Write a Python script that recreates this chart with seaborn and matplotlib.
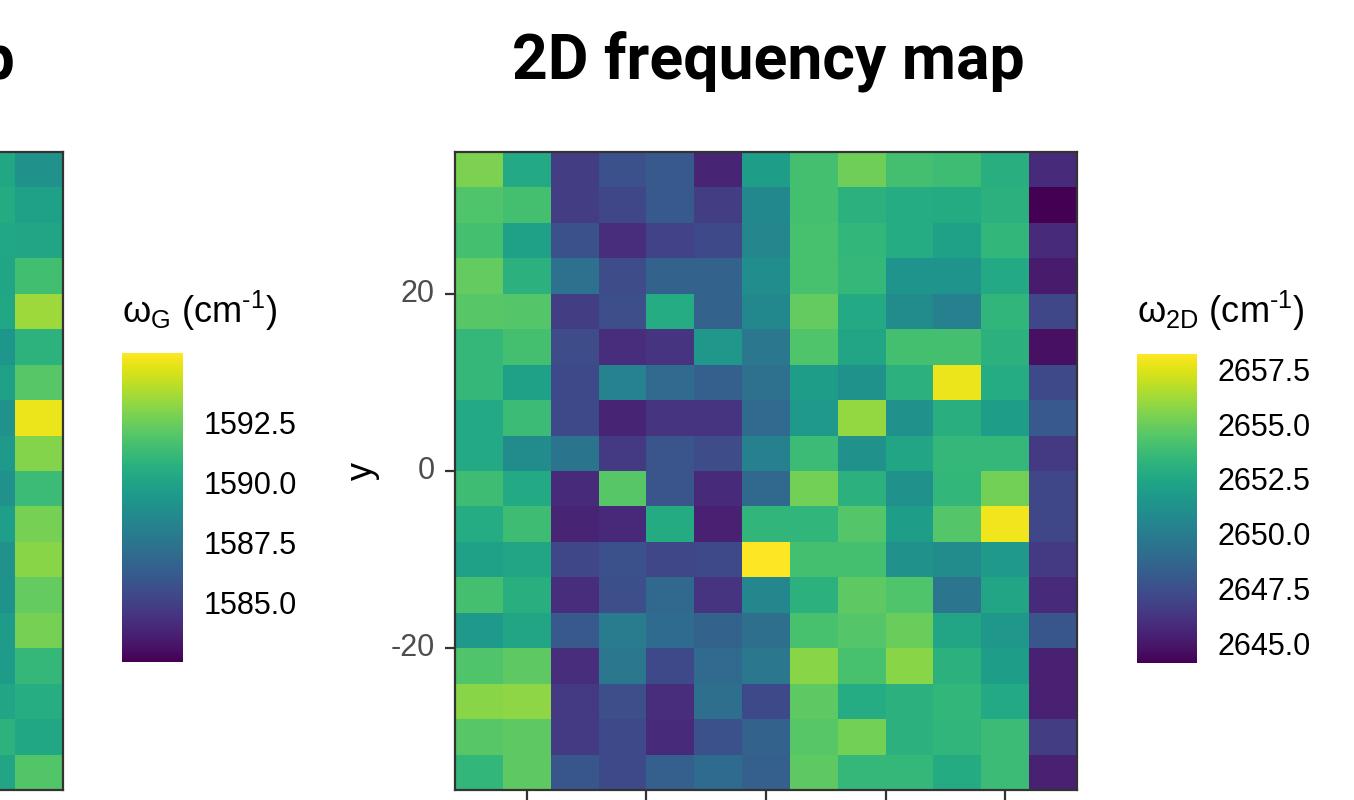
import numpy as np
import pandas as pd
import matplotlib
matplotlib.use("Agg")
import matplotlib.pyplot as plt
import seaborn as sns

# ---- data -----------------------------------------------------------------
# map grid (cell centres), rows listed from top (y = 34) to bottom (y = -34)
x_pos = [-24, -20, -16, -12, -8, -4, 0, 4, 8, 12, 16, 20, 24]
y_pos = [34, 30, 26, 22, 18, 14, 10, 6, 2, -2, -6, -10, -14, -18, -22, -26, -30, -34]
step = 4

# only the two right-most columns of the G map are in view
x_pos_g = [20, 24]

freq_2d = [
    [2655.4, 2652.6, 2646.6, 2647.6, 2648.0, 2645.5, 2651.9, 2654.0, 2655.1, 2654.0, 2653.8, 2653.0, 2645.8],
    [2654.3, 2654.0, 2646.6, 2647.1, 2648.0, 2646.6, 2650.7, 2654.0, 2653.1, 2652.8, 2652.7, 2653.1, 2644.1],
    [2654.0, 2652.1, 2647.6, 2645.9, 2646.9, 2647.2, 2650.6, 2654.1, 2653.4, 2652.8, 2652.1, 2653.4, 2645.8],
    [2654.8, 2653.1, 2649.3, 2647.3, 2648.5, 2648.5, 2651.0, 2654.1, 2653.5, 2651.4, 2651.4, 2652.6, 2645.1],
    [2654.5, 2654.4, 2646.6, 2647.5, 2652.8, 2648.5, 2650.7, 2654.8, 2652.6, 2650.9, 2650.2, 2653.3, 2647.1],
    [2653.5, 2654.0, 2647.3, 2645.9, 2646.2, 2651.6, 2649.7, 2654.3, 2652.4, 2654.0, 2654.0, 2653.1, 2644.7],
    [2653.5, 2652.1, 2647.2, 2650.3, 2648.9, 2648.3, 2649.3, 2651.9, 2651.3, 2653.1, 2657.8, 2652.8, 2647.2],
    [2652.6, 2653.7, 2647.2, 2645.5, 2646.2, 2646.2, 2648.9, 2651.7, 2655.9, 2651.2, 2653.0, 2651.9, 2648.0],
    [2652.6, 2650.9, 2649.5, 2646.5, 2647.8, 2647.3, 2650.2, 2653.7, 2651.2, 2652.4, 2653.5, 2653.5, 2646.5],
    [2653.8, 2652.6, 2645.8, 2654.5, 2647.8, 2645.8, 2648.8, 2655.2, 2653.1, 2651.2, 2653.4, 2655.2, 2647.1],
    [2652.8, 2653.8, 2645.5, 2645.7, 2652.7, 2645.4, 2653.3, 2653.3, 2654.4, 2651.9, 2654.4, 2657.9, 2647.1],
    [2652.1, 2652.4, 2647.1, 2647.6, 2647.1, 2647.2, 2658.2, 2654.0, 2654.0, 2651.2, 2650.9, 2651.7, 2646.5],
    [2654.0, 2653.0, 2645.9, 2647.5, 2648.8, 2646.2, 2650.6, 2653.1, 2654.7, 2654.3, 2649.6, 2652.4, 2645.8],
    [2651.7, 2652.4, 2648.0, 2649.9, 2649.0, 2648.5, 2649.2, 2654.1, 2654.4, 2655.0, 2652.4, 2651.6, 2647.9],
    [2654.3, 2654.7, 2645.9, 2649.7, 2647.2, 2648.9, 2649.7, 2655.7, 2654.1, 2655.7, 2653.1, 2651.9, 2645.4],
    [2655.7, 2655.8, 2646.5, 2647.5, 2645.9, 2649.2, 2647.2, 2654.7, 2652.8, 2653.1, 2653.4, 2652.6, 2645.4],
    [2654.5, 2654.7, 2646.5, 2647.2, 2645.8, 2647.6, 2648.5, 2654.5, 2655.2, 2653.1, 2653.3, 2653.7, 2646.6],
    [2653.4, 2654.7, 2647.9, 2647.2, 2648.3, 2649.0, 2648.3, 2654.7, 2653.5, 2653.5, 2652.7, 2653.7, 2645.4],
]

freq_g = [
    [1590.2, 1589.0], [1590.4, 1589.9], [1590.2, 1590.1], [1590.1, 1591.5],
    [1590.2, 1593.5], [1589.3, 1590.8], [1589.9, 1592.0], [1589.0, 1595.0],
    [1589.5, 1593.0], [1589.0, 1591.3], [1589.7, 1592.7], [1589.0, 1593.1],
    [1589.1, 1592.3], [1589.6, 1592.7], [1589.6, 1591.1], [1590.1, 1590.5],
    [1590.8, 1590.2], [1590.1, 1591.9],
]
g_min, g_max = 1582.5, 1595.4   # colour range of the full G map

tick_x = [-20, -10, 0, 10, 20]
tick_y = [20, 0, -20]
g_cbar_ticks = [1585.0, 1587.5, 1590.0, 1592.5]
d_cbar_ticks = [2645.0, 2647.5, 2650.0, 2652.5, 2655.0, 2657.5]

# ---- style ----------------------------------------------------------------
sns.set_theme(style="white")
plt.rcParams['font.family'] = ['Liberation Sans', 'DejaVu Sans']
plt.rcParams['text.color'] = 'black'
plt.rcParams['mathtext.fontset'] = 'custom'
plt.rcParams['mathtext.rm'] = 'Liberation Sans'
plt.rcParams['mathtext.it'] = 'Liberation Sans:italic'

W, H = 1354, 800
def box(left, top, right, bottom):
    return [left / W, 1 - bottom / H, (right - left) / W, (bottom - top) / H]

frame_col = '#333333'
tick_fs = 22
title_fs = 26
head_fs = 45

fig = plt.figure(figsize=(W / 100, H / 100), dpi=100, facecolor='white')

def style_panel(ax):
    for s in ax.spines.values():
        s.set_visible(True)
        s.set_color(frame_col)
        s.set_linewidth(1.6)
    ax.tick_params(axis='both', direction='out', length=7.5, width=1.6,
                   bottom=True, left=True, top=False, right=False,
                   color=frame_col, labelcolor='#4d4d4d', labelsize=tick_fs, pad=7)

def style_cbar(ax, cax, ticks):
    ax.collections[0].colorbar.outline.set_visible(False)
    cax.set_yticks(ticks)
    cax.set_yticklabels([f"{t:.1f}" for t in ticks])
    cax.tick_params(axis='y', direction='in', length=8.5, width=1, color='white',
                    left=True, right=True, labelleft=False, labelright=True,
                    labelcolor='black', labelsize=tick_fs, pad=15)
    for s in cax.spines.values():
        s.set_visible(False)

# ---- 2D map ---------------------------------------------------------------
df_2d = pd.DataFrame(freq_2d, index=y_pos, columns=x_pos)
ax2 = fig.add_axes(box(455, 152, 1077, 790))
cax2 = fig.add_axes(box(1137, 354, 1197, 663))
sns.heatmap(df_2d, cmap='viridis', ax=ax2, cbar_ax=cax2)
style_panel(ax2)
# x tick labels sit below the visible area, only the tick marks show
ax2.set_xticks([(v - x_pos[0]) / step + 0.5 for v in tick_x])
ax2.tick_params(axis='x', labelbottom=False)
ax2.set_yticks([(y_pos[0] - v) / step + 0.5 for v in tick_y])
ax2.set_yticklabels([str(v) for v in tick_y], rotation=0)
ax2.set_xlabel('')
ax2.set_ylabel('y', fontsize=title_fs, color='black', labelpad=8)
style_cbar(ax2, cax2, d_cbar_ticks)
fig.text(768 / W, 1 - 78 / H, '2D frequency map', ha='center', va='baseline',
         fontsize=head_fs, fontweight='bold', color='black',
         family=['Roboto', 'DejaVu Sans'])
fig.text(1137 / W, 1 - 323 / H, r'ω$_{\mathrm{2D}}$ (cm$^{\text{-1}}$)',
         ha='left', va='baseline', fontsize=title_fs, color='black')

# ---- G map (only its right edge is in view) -------------------------------
df_g = pd.DataFrame(freq_g, index=y_pos, columns=x_pos_g)
ax1 = fig.add_axes(box(63 - 622, 152, 63, 790))
cax1 = fig.add_axes(box(122, 353, 183, 662))
sns.heatmap(df_g, cmap='viridis', vmin=g_min, vmax=g_max, ax=ax1, cbar_ax=cax1)
style_panel(ax1)
ax1.set_xlim(len(x_pos_g) - len(x_pos), len(x_pos_g))
ax1.set_xticks([])
ax1.set_yticks([])
ax1.set_xlabel('')
ax1.set_ylabel('')
style_cbar(ax1, cax1, g_cbar_ticks)
fig.text(15 / W, 1 - 78 / H, 'G frequency map', ha='right', va='baseline',
         fontsize=head_fs, fontweight='bold', color='black',
         family=['Roboto', 'DejaVu Sans'])
fig.text(122 / W, 1 - 323 / H, r'ω$_{\mathrm{G}}$ (cm$^{\text{-1}}$)',
         ha='left', va='baseline', fontsize=title_fs, color='black')

fig.savefig('out.png', dpi=100, facecolor='white')
